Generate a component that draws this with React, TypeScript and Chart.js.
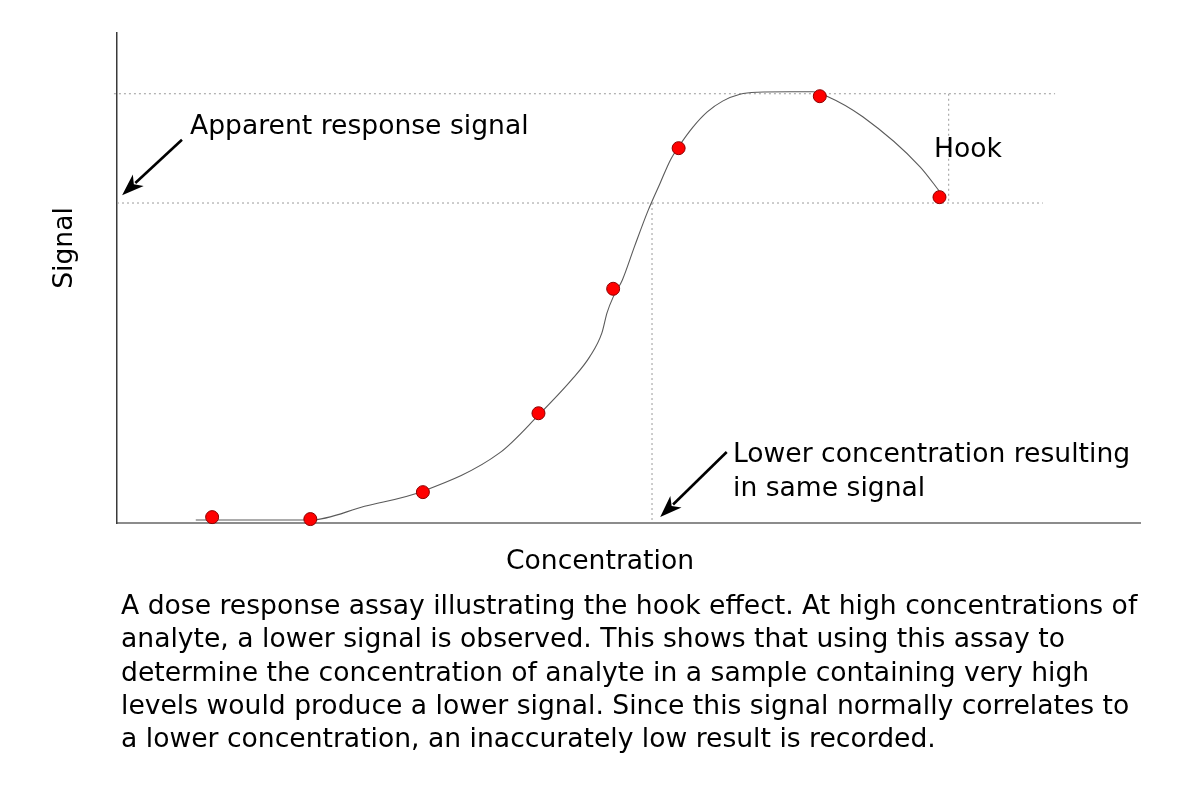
import React, { useEffect, useRef } from "react";
import { Chart, registerables } from "chart.js";

Chart.register(...registerables);

// Measured assay points (concentration, signal), arbitrary 0-100 units
const assayConcentration = [9.3, 18.9, 29.9, 41.2, 48.5, 54.9, 68.7, 80.4];
const assaySignal = [1.2, 0.8, 6.3, 22.4, 47.8, 76.5, 87.1, 66.5];

// Hand-drawn dose-response curve
const curveConcentration = [7.7, 18.9, 24.2, 29.9, 37.4, 41.2, 44.6, 46.2, 47.4, 47.9, 48.5, 49.4, 50.6, 51.9, 53.1, 54.1, 55.0, 56.3, 57.7, 59.2, 60.9, 62.6, 65.8, 68.0, 69.4, 72.9, 78.5, 80.5];
const curveSignal = [0.6, 0.6, 3.4, 6.5, 14.3, 22.0, 29.6, 33.9, 38.8, 42.9, 46.1, 49.6, 56.5, 63.7, 69.4, 74.1, 77.1, 80.8, 83.9, 86.1, 87.5, 87.9, 88.0, 88.0, 87.1, 82.9, 72.7, 67.4];

// Dotted guide lines
const peakLevelX = [-0.3, 91.7];
const peakLevelY = [87.6, 87.6];
const hookLevelX = [0, 90.5];
const hookLevelY = [65.3, 65.3];
const lowerConcX = [52.3, 52.3];
const lowerConcY = [65.3, 0.6];
const hookDropX = [81.3, 81.3];
const hookDropY = [87.6, 65.3];

// Arrows: [tailX, tailY, headX, headY]
const apparentArrow = [6.35, 78.2, 0.5, 66.9];
const lowerArrow = [59.6, 14.5, 53.1, 1.2];

const captionLines = [
  "A dose response assay illustrating the hook effect. At high concentrations of",
  "analyte, a lower signal is observed. This shows that using this assay to",
  "determine the concentration of analyte in a sample containing very high",
  "levels would produce a lower signal. Since this signal normally correlates to",
  "a lower concentration, an inaccurately low result is recorded.",
];

const FONT_SIZE = 26.6;
const FONT = `${FONT_SIZE}px "DejaVu Sans"`;

const zip = (xs: number[], ys: number[]) => xs.map((x, i) => ({ x, y: ys[i] }));

const guide = (xs: number[], ys: number[]) => ({
  type: "line" as const,
  data: zip(xs, ys),
  borderColor: "#9a9a9a",
  borderWidth: 1,
  borderDash: [2, 3],
  pointRadius: 0,
  fill: false,
  order: 3,
  clip: false as any,
});

const annotationPlugin = {
  id: "hookAnnotations",
  afterDatasetsDraw(chart: any) {
    const { ctx, scales } = chart;
    const xs = scales.x;
    const ys = scales.y;
    const drawArrow = (a: number[]) => {
      const x1 = xs.getPixelForValue(a[0]);
      const y1 = ys.getPixelForValue(a[1]);
      const x2 = xs.getPixelForValue(a[2]);
      const y2 = ys.getPixelForValue(a[3]);
      const ang = Math.atan2(y2 - y1, x2 - x1);
      const hl = 22;
      const hw = 8;
      const bx = x2 - hl * Math.cos(ang);
      const by = y2 - hl * Math.sin(ang);
      ctx.save();
      ctx.strokeStyle = "#000";
      ctx.fillStyle = "#000";
      ctx.lineWidth = 2.6;
      ctx.beginPath();
      ctx.moveTo(x1, y1);
      ctx.lineTo(bx + 4 * Math.cos(ang), by + 4 * Math.sin(ang));
      ctx.stroke();
      ctx.beginPath();
      ctx.moveTo(x2, y2);
      ctx.lineTo(bx - hw * Math.sin(ang), by + hw * Math.cos(ang));
      ctx.lineTo(bx + 6 * Math.cos(ang), by + 6 * Math.sin(ang));
      ctx.lineTo(bx + hw * Math.sin(ang), by - hw * Math.cos(ang));
      ctx.closePath();
      ctx.fill();
      ctx.restore();
    };
    drawArrow(apparentArrow);
    drawArrow(lowerArrow);

    ctx.save();
    ctx.fillStyle = "#000";
    ctx.font = FONT;
    ctx.textBaseline = "alphabetic";
    ctx.textAlign = "left";
    ctx.fillText("Apparent response signal", 190, 134);
    ctx.fillText("Hook", 934, 157);
    ctx.fillText("Lower concentration resulting", 733, 462);
    ctx.fillText("in same signal", 733, 496);
    ctx.textAlign = "center";
    ctx.fillText("Concentration", 600, 569);
    ctx.translate(72, 248);
    ctx.rotate(-Math.PI / 2);
    ctx.fillText("Signal", 0, 0);
    ctx.restore();
  },
};

export default function App() {
  const ref = useRef<HTMLCanvasElement | null>(null);
  useEffect(() => {
    if (!ref.current) return;
    const chart = new Chart(ref.current, {
      type: "line",
      data: {
        datasets: [
          {
            type: "scatter",
            data: zip(assayConcentration, assaySignal),
            backgroundColor: "#ff0000",
            borderColor: "#8a0000",
            borderWidth: 1,
            pointRadius: 6.5,
            showLine: false,
            order: 0,
            clip: false as any,
          } as any,
          {
            type: "line",
            data: zip(curveConcentration, curveSignal),
            borderColor: "#5a5a5a",
            borderWidth: 1.1,
            pointRadius: 0,
            cubicInterpolationMode: "monotone",
            fill: false,
            order: 1,
            clip: false as any,
          } as any,
          guide(peakLevelX, peakLevelY),
          guide(hookLevelX, hookLevelY),
          guide(lowerConcX, lowerConcY),
          guide(hookDropX, hookDropY),
        ],
      },
      options: {
        responsive: false,
        maintainAspectRatio: false,
        animation: false,
        events: [],
        layout: { padding: { left: 117, right: 60, top: 33, bottom: 277 } },
        plugins: { legend: { display: false }, tooltip: { enabled: false } },
        scales: {
          x: {
            type: "linear",
            min: 0,
            max: 100,
            ticks: { display: false },
            grid: { display: false, drawTicks: false },
            border: { display: true, color: "#8c8c8c", width: 2 },
          },
          y: {
            type: "linear",
            min: 0,
            max: 100,
            ticks: { display: false },
            grid: { display: false, drawTicks: false },
            border: { display: true, color: "#3a3a3a", width: 1.5 },
          },
        },
      },
      plugins: [annotationPlugin],
    });
    return () => chart.destroy();
  }, []);

  return (
    <div style={{ position: "fixed", left: 0, top: 0, width: 1200, height: 800, background: "#fff" }}>
      <canvas ref={ref} width={1200} height={800} style={{ position: "absolute", left: 0, top: 0 }} />
      <div
        style={{
          position: "absolute",
          left: 121,
          top: 588,
          width: 1070,
          fontFamily: '"DejaVu Sans"',
          fontSize: FONT_SIZE,
          lineHeight: "33.25px",
          color: "#000",
          whiteSpace: "nowrap",
        }}
      >
        {captionLines.map((l, i) => (
          <div key={i}>{l}</div>
        ))}
      </div>
    </div>
  );
}
